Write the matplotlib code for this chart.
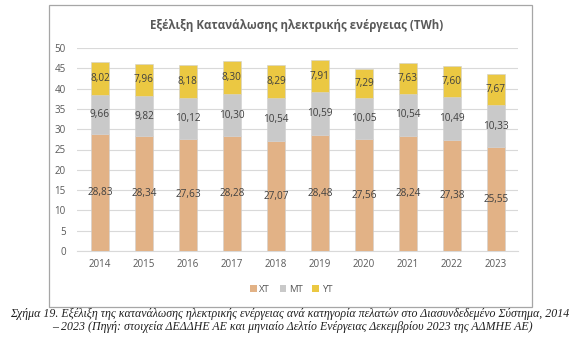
import matplotlib
matplotlib.use("Agg")
import matplotlib.pyplot as plt
from matplotlib.patches import Rectangle, Patch

# ---------------------------------------------------------------------------
# Data (TWh)
# ---------------------------------------------------------------------------
years = ["2014", "2015", "2016", "2017", "2018", "2019", "2020", "2021", "2022", "2023"]
xt = [28.83, 28.34, 27.63, 28.28, 27.07, 28.48, 27.56, 28.24, 27.38, 25.55]
mt = [9.66, 9.82, 10.12, 10.30, 10.54, 10.59, 10.05, 10.54, 10.49, 10.33]
yt = [8.02, 7.96, 8.18, 8.30, 8.29, 7.91, 7.29, 7.63, 7.60, 7.67]
series_names = ["ΧΤ", "ΜΤ", "ΥΤ"]

COLORS = ["#E2B286", "#C9C9C9", "#EBC842"]
TXT = "#595959"

fig = plt.figure(figsize=(5.81, 3.45), dpi=100)
fig.patch.set_facecolor("white")

# chart frame
fig.patches.append(Rectangle((49 / 581, 1 - 307 / 345), 483 / 581, 302 / 345,
                             transform=fig.transFigure, fill=False,
                             edgecolor="#A6A6A6", linewidth=0.9))

ax = fig.add_axes([77 / 581, 1 - 251 / 345, 441 / 581, 203 / 345])

x = list(range(len(years)))
bottom = [0.0] * len(years)
for vals, col in zip([xt, mt, yt], COLORS):
    ax.bar(x, vals, width=0.41, bottom=bottom, color=col, zorder=3,
           edgecolor="#D0D0D0", linewidth=0.4)
    for i, v in enumerate(vals):
        ax.text(i, bottom[i] + v / 2, f"{v:.2f}".replace(".", ","),
                ha="center", va="center", fontsize=7.2, color="#404040",
                family="Open Sans", zorder=4)
    bottom = [b + v for b, v in zip(bottom, vals)]

ax.set_xlim(-0.52, 9.5)
ax.set_ylim(0, 50)
ax.set_yticks(range(0, 51, 5))
ax.set_xticks(x)
ax.set_xticklabels(years)
ax.tick_params(axis="both", length=0, labelsize=7, labelcolor=TXT, pad=6)
for lbl in ax.get_xticklabels() + ax.get_yticklabels():
    lbl.set_family("Open Sans")
ax.tick_params(axis="y", pad=8)
ax.grid(axis="y", color="#D9D9D9", linewidth=0.8, zorder=0)
for s in ["top", "right", "left"]:
    ax.spines[s].set_visible(False)
ax.spines["bottom"].set_color("#D9D9D9")
ax.spines["bottom"].set_linewidth(0.8)

fig.text(297 / 581, 1 - 26 / 345, "Εξέλιξη Κατανάλωσης ηλεκτρικής ενέργειας (TWh)",
         ha="center", va="center", fontsize=8.3, fontweight="bold",
         color=TXT, family="Open Sans")

handles = [Patch(facecolor=c, edgecolor="none", label=n) for c, n in zip(COLORS, series_names)]
fig.legend(handles=handles, loc="center", bbox_to_anchor=(291 / 581, 1 - 289 / 345),
           ncol=3, frameon=False, handlelength=0.7, handleheight=0.7,
           handletextpad=0.3, columnspacing=1.0, labelcolor=TXT,
           prop={"family": "Open Sans", "size": 6.8})

cap1 = ("Σχήμα 19. Εξέλιξη της κατανάλωσης ηλεκτρικής ενέργειας ανά κατηγορία πελατών "
        "στο Διασυνδεδεμένο Σύστημα, 2014")
cap2 = "– 2023 (Πηγή: στοιχεία ΔΕΔΔΗΕ ΑΕ και μηνιαίο Δελτίο Ενέργειας Δεκεμβρίου 2023 της ΑΔΜΗΕ ΑΕ)"
fig.text(290 / 581, 1 - 314 / 345, cap1, ha="center", va="center", fontsize=8.6,
         style="italic", family="Liberation Serif", color="#1F1F1F")
fig.text(292 / 581, 1 - 327 / 345, cap2, ha="center", va="center", fontsize=8.6,
         style="italic", family="Liberation Serif", color="#1F1F1F")

fig.savefig("out.png", dpi=100, facecolor="white")
